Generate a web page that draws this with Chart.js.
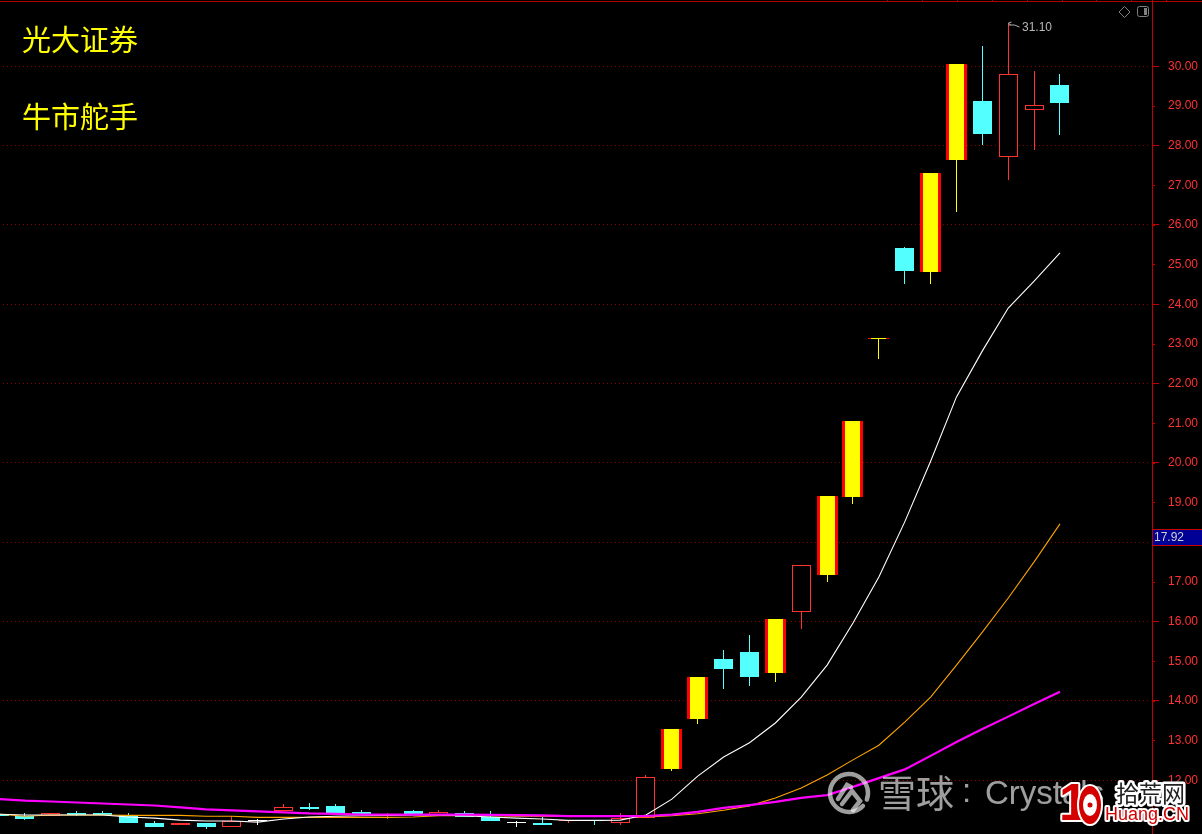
<!DOCTYPE html>
<html>
<head>
<meta charset="utf-8">
<style>
  html, body { margin: 0; padding: 0; background: #000; overflow: hidden; }
  canvas { display: block; }
</style>
<script src="https://cdn.jsdelivr.net/npm/chart.js@4"></script>
</head>
<body>
<canvas id="kline" width="1202" height="834"></canvas>
<script>
const opens = [11.15,11.10,11.10,11.17,11.19,11.125,10.94,10.875,10.916,10.82,10.97,11.235,11.335,11.345,11.21,11.13,11.22,11.135,11.19,11.08,10.93,10.94,10.99,11.0,10.93,11.06,12.28,13.56,15.07,15.23,14.70,16.24,17.17,19.14,23.13,25.43,24.82,27.64,29.13,27.71,28.90,29.53]
const closes = [11.10,11.02,11.17,11.13,11.13,10.94,10.84,10.93,10.815,10.98,10.97,11.335,11.29,11.17,11.15,11.14,11.16,11.21,11.075,10.99,10.93,10.89,10.995,10.97,11.06,12.09,13.31,14.62,14.82,14.62,16.08,17.42,19.16,21.07,23.15,24.85,27.32,30.06,28.30,29.80,29.02,29.08]
const highs = [11.17,11.17,11.19,11.235,11.22,11.17,10.99,10.93,10.94,11.10,11.02,11.395,11.42,11.395,11.245,11.19,11.26,11.245,11.22,11.22,10.975,11.08,10.995,11.0,11.17,12.15,13.31,14.62,15.28,15.68,16.08,17.42,19.16,21.07,23.15,25.45,27.32,30.06,30.52,31.10,29.89,29.81]
const lows = [11.08,11.00,11.10,11.10,11.13,10.94,10.815,10.875,10.765,10.82,10.89,11.235,11.25,11.17,11.15,11.04,11.16,11.135,11.075,10.97,10.84,10.87,10.92,10.89,10.89,11.06,12.23,13.42,14.30,14.39,14.49,15.83,17.00,18.98,22.63,24.52,24.52,26.33,28.02,27.14,27.90,28.27]
const limitUp = [26,27,30,32,33,34,36,37]

const maWhite = [11.15,11.13,11.13,11.13,11.13,11.08,11.05,11.0,10.98,10.98,10.95,11.03,11.08,11.10,11.11,11.12,11.13,11.13,11.11,11.08,11.05,11.03,10.995,10.995,11.0,11.13,11.53,12.11,12.59,12.95,13.45,14.10,14.91,15.97,17.13,18.52,20.05,21.67,22.83,23.91,24.59,25.30]
const maOrange = [11.15,11.10,11.13,11.13,11.13,11.12,11.12,11.12,11.10,11.10,11.07,11.07,11.07,11.07,11.07,11.07,11.08,11.11,11.12,11.11,11.10,11.10,11.10,11.10,11.10,11.08,11.11,11.16,11.25,11.36,11.56,11.81,12.14,12.52,12.89,13.47,14.10,14.91,15.74,16.60,17.51,18.47]
const maPink = [11.53,11.49,11.47,11.445,11.42,11.395,11.37,11.32,11.27,11.245,11.22,11.195,11.17,11.16,11.14,11.14,11.14,11.14,11.14,11.135,11.125,11.12,11.10,11.10,11.10,11.105,11.14,11.21,11.31,11.38,11.46,11.56,11.63,11.84,12.06,12.28,12.62,12.97,13.30,13.61,13.93,14.24]

const yTicks = [12,13,14,15,16,17,18,19,20,21,22,23,24,25,26,27,28,29,30]
const lastPrice = '17.92'
const highIndex = 39
const highLabel = '31.10'

const RED = '#ff3232'
const YELLOW = '#ffff00'
const CYAN = '#54ffff'
const WHITE = '#ffffff'
const AXIS = '#c00000'

const isLimit = i => limitUp.includes(i)
const candleColor = i => {
    if (isLimit(i)) return YELLOW
    if (opens[i] === closes[i]) return WHITE
    return closes[i] > opens[i] ? RED : CYAN
}
const idx = opens.map((_, i) => i)
const plain = idx.filter(i => !isLimit(i))
const evenTicks = yTicks.filter(v => v % 2 === 0)

const bar = (label, data, width, extra) => ({
    type: 'bar',
    label,
    data,
    grouped: false,
    barThickness: width,
    maxBarThickness: width,
    minBarLength: 1,
    inflateAmount: 0,
    borderSkipped: false,
    order: 5,
    ...extra
})
const line = (label, values, color, width, order) => ({
    type: 'line',
    label,
    data: values.map((v, i) => ({x: i, y: v})),
    borderColor: color,
    borderWidth: width,
    pointRadius: 0,
    tension: 0,
    order
})

// snap the bars to whole pixels, the reference is not antialiased
const snapBars = {
    id: 'snapBars',
    afterDatasetsUpdate(chart) {
        chart.getSortedVisibleDatasetMetas().forEach(meta => {
            if (meta.type !== 'bar') return
            meta.data.forEach(el => {
                el.x = Math.floor(el.x) + 0.5
                el.y = Math.round(el.y)
                el.base = Math.round(el.base)
            })
        })
    }
}

// dotted price lines, one pixel on, three off
const dots = {
    id: 'dots',
    beforeDatasetsDraw(chart) {
        const {ctx} = chart
        ctx.save()
        ctx.fillStyle = '#8c0000'
        evenTicks.forEach(v => {
            const row = Math.round(chart.scales.y.getPixelForValue(v) - 0.7)
            for (let x = 3; x < 1149; x += 4) ctx.fillRect(x, row, 1, 1)
        })
        ctx.restore()
    }
}

const outlined = (ctx, text, x, y, fill, outline, lw) => {
    ctx.lineJoin = 'round'
    ctx.lineWidth = lw
    ctx.strokeStyle = outline
    ctx.strokeText(text, x, y)
    ctx.fillStyle = fill
    ctx.fillText(text, x, y)
}

const overlay = {
    id: 'overlay',
    afterDraw(chart) {
        const {ctx} = chart
        const xs = chart.scales.x
        const ys = chart.scales.y
        ctx.save()

        // long ticks on even prices
        ctx.fillStyle = AXIS
        evenTicks.forEach(v => {
            ctx.fillRect(1153, Math.round(ys.getPixelForValue(v) - 0.7), 6, 1)
        })

        // top rule
        ctx.fillStyle = '#b00000'
        ctx.fillRect(0, 1, 1202, 1)
        for (let x = 887; x < 1170; x += 34.9) ctx.fillRect(Math.round(x), 0, 1, 1)

        // stock name
        ctx.font = '29px "Noto Sans CJK SC"'
        ctx.fillStyle = YELLOW
        ctx.textBaseline = 'middle'
        ctx.textAlign = 'left'
        ctx.fillText('光大证券', 22, 40)
        ctx.fillText('牛市舵手', 22, 117)

        // high marker
        const hx = Math.floor(xs.getPixelForValue(highIndex)) + 0.5
        const hy = Math.round(ys.getPixelForValue(31.10))
        ctx.strokeStyle = '#b0b0b0'
        ctx.lineWidth = 1
        ctx.beginPath()
        ctx.moveTo(hx + 2, hy + 2)
        ctx.lineTo(hx, hy)
        ctx.lineTo(hx + 3, hy - 1)
        ctx.moveTo(hx, hy + 2)
        ctx.lineTo(hx + 6, hy + 2)
        ctx.lineTo(hx + 11, hy + 4)
        ctx.stroke()
        ctx.font = '12px "Liberation Sans"'
        ctx.fillStyle = '#b8b8b8'
        ctx.fillText(highLabel, 1022, hy + 5)

        // window icons
        ctx.strokeStyle = '#808080'
        ctx.beginPath()
        ctx.moveTo(1124.5, 6.5)
        ctx.lineTo(1130, 12)
        ctx.lineTo(1124.5, 17.5)
        ctx.lineTo(1119, 12)
        ctx.closePath()
        ctx.stroke()
        ctx.beginPath()
        ctx.roundRect(1137.5, 6.5, 11, 10, 2)
        ctx.stroke()
        ctx.fillStyle = '#808080'
        ctx.fillRect(1144, 8, 3, 7)

        // last price tag
        ctx.fillStyle = '#000096'
        ctx.fillRect(1153, 530, 49, 15)
        ctx.fillStyle = '#c80000'
        ctx.fillRect(1153, 529, 49, 1)
        ctx.fillRect(1153, 545, 49, 1)
        ctx.font = '12px "Liberation Sans"'
        ctx.fillStyle = '#d0d0d0'
        ctx.fillText(lastPrice, 1154, 538)

        // xueqiu watermark
        const mark = 'rgba(255,255,255,0.62)'
        ctx.strokeStyle = mark
        ctx.lineWidth = 4.5
        ctx.lineCap = 'round'
        ctx.beginPath()
        ctx.arc(849, 793, 19, 0.75, 0.35 + Math.PI * 2)
        ctx.stroke()
        ctx.beginPath()
        ctx.moveTo(838, 799)
        ctx.lineTo(847, 785)
        ctx.lineTo(851, 787)
        ctx.moveTo(842, 804)
        ctx.lineTo(852, 791)
        ctx.lineTo(860, 801)
        ctx.lineTo(853, 810)
        ctx.stroke()
        ctx.fillStyle = mark
        ctx.font = '38px "Noto Sans CJK SC"'
        ctx.fillText('雪球', 878, 793)
        ctx.font = '33px "Liberation Sans"'
        ctx.fillText(':', 962, 793)
        ctx.fillText('Crystals', 985, 795)

        // shihuang logo
        ctx.font = 'bold 52px "Liberation Sans"'
        outlined(ctx, '1', 1059, 806, '#d40000', '#ffffff', 4)
        ctx.fillStyle = '#d40000'
        ctx.strokeStyle = '#ffffff'
        ctx.lineWidth = 2
        ctx.beginPath()
        ctx.ellipse(1090, 805, 12, 20, 0, 0, Math.PI * 2)
        ctx.fill()
        ctx.stroke()
        ctx.fillStyle = '#ffffff'
        ctx.beginPath()
        ctx.ellipse(1090, 805, 7, 11, 0, 0, Math.PI * 2)
        ctx.fill()
        ctx.fillStyle = '#d40000'
        ctx.beginPath()
        ctx.arc(1090, 805, 2.5, 0, Math.PI * 2)
        ctx.fill()
        ctx.font = '23px "Noto Sans CJK SC"'
        outlined(ctx, '拾荒网', 1116, 793, '#222222', '#ffffff', 5)
        ctx.font = '18px "Liberation Sans"'
        outlined(ctx, 'Huang.CN', 1105, 815, '#d40000', '#ffffff', 4)

        ctx.restore()
    }
}

new Chart('kline', {
    data: {
        datasets: [
            bar('wick', idx.map(i => ({x: i, y: [lows[i], highs[i]]})), 1, {
                backgroundColor: idx.map(candleColor),
                order: 6
            }),
            bar('body', plain.map(i => ({x: i, y: [opens[i], closes[i]]})), 19, {
                backgroundColor: plain.map(i => closes[i] > opens[i] ? '#000000' : candleColor(i)),
                borderColor: plain.map(candleColor),
                borderWidth: 1
            }),
            bar('limit edge', limitUp.map(i => ({x: i, y: [opens[i], closes[i]]})), 21, {
                backgroundColor: '#ff0000',
                order: 4
            }),
            bar('limit fill', limitUp.map(i => ({x: i, y: [opens[i], closes[i]]})), 15, {
                backgroundColor: YELLOW,
                order: 3
            }),
            line('ma orange', maOrange, '#ffa500', 1.1, 2),
            line('ma white', maWhite, WHITE, 1.1, 1),
            line('ma pink', maPink, '#ff00ff', 2.2, 0)
        ]
    },
    options: {
        responsive: false,
        animation: false,
        layout: {padding: 0, autoPadding: false},
        plugins: {legend: {display: false}, tooltip: {enabled: false}},
        scales: {
            x: {
                type: 'linear',
                display: false,
                offset: false,
                min: 0.034,
                max: 44.556
            },
            y: {
                position: 'right',
                min: 10.651,
                max: 31.676,
                afterBuildTicks: scale => { scale.ticks = yTicks.map(v => ({value: v})) },
                afterFit: scale => { scale.width = 50; scale.paddingTop = 0; scale.paddingBottom = 0 },
                border: {color: AXIS},
                grid: {
                    drawOnChartArea: false,
                    tickColor: AXIS,
                    tickLength: 3
                },
                ticks: {
                    autoSkip: false,
                    color: RED,
                    padding: 13,
                    font: {family: '"Liberation Sans"', size: 12},
                    callback: v => v.toFixed(2)
                }
            }
        }
    },
    plugins: [snapBars, dots, overlay]
})
</script>
</body>
</html>
